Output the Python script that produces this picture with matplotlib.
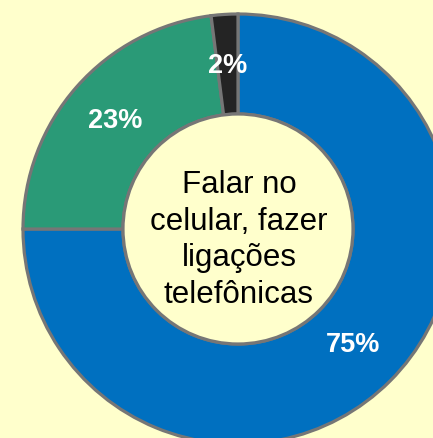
import matplotlib.pyplot as plt
from matplotlib.patches import Circle

labels = ['Sim', 'Não', 'Não sabe']
values = [75, 23, 2]
colors = ['#0070C0', '#2A9A77', '#242424']
center_text = 'Falar no\ncelular, fazer\nligações\ntelefônicas'

bg = '#FFFFCC'
edge = '#767676'

fig = plt.figure(figsize=(4.33, 4.38), dpi=100, facecolor=bg)
ax = fig.add_axes([0, 0, 1, 1])
ax.set_facecolor(bg)

wedges, _, autotexts = ax.pie(
    values, colors=colors, startangle=90, counterclock=False,
    center=(238, 209), radius=215, autopct='%d%%', pctdistance=0.76,
    wedgeprops=dict(width=100, edgecolor=edge, linewidth=2.3),
    textprops=dict(color='white', fontsize=19.5, fontweight='bold',
                   family='Liberation Sans'),
)

ax.add_patch(Circle((238, 209), 115, facecolor=bg, edgecolor=edge,
                    linewidth=2.3, zorder=3))
ax.text(239, 198, center_text, ha='center', va='center', fontsize=22.5,
        family='Liberation Sans', linespacing=1.3, zorder=4)

ax.set_xlim(0, 433)
ax.set_ylim(0, 438)
ax.set_aspect('equal')
ax.axis('off')

fig.savefig('out.png', dpi=100, facecolor=bg)
